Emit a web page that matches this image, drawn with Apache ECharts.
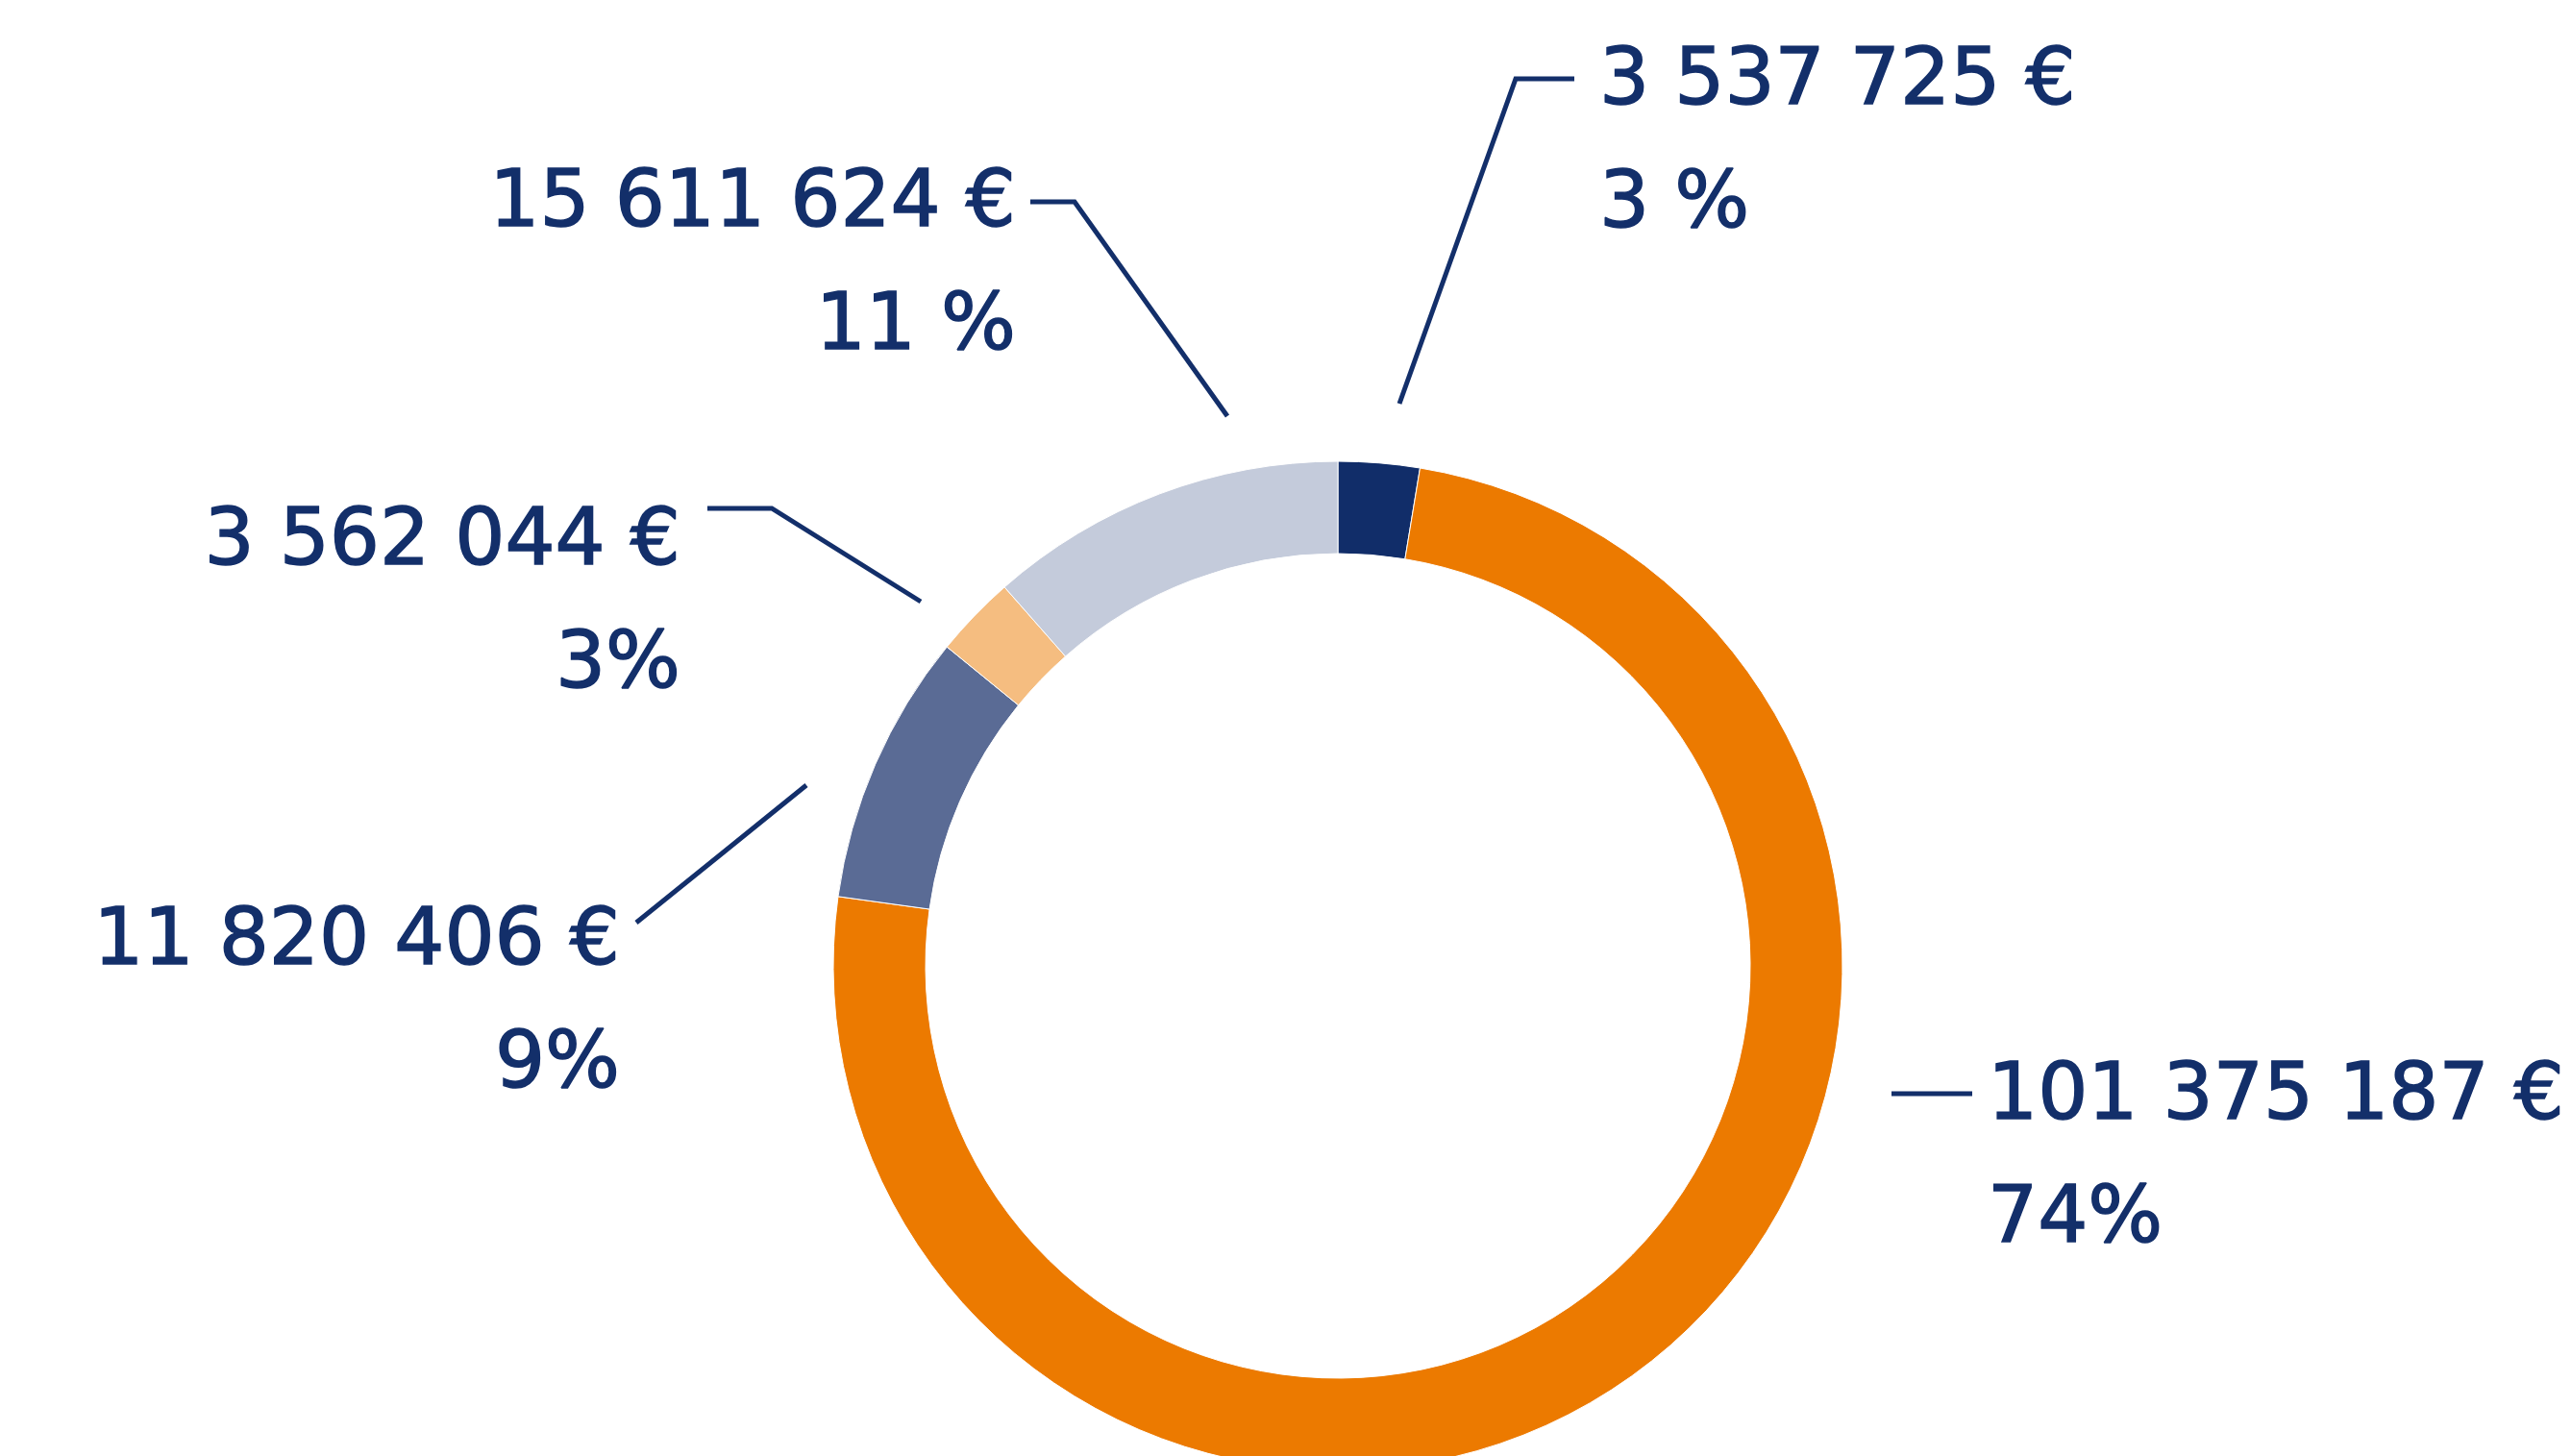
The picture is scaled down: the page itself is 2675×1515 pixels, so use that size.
<!DOCTYPE html>
<html>
<head>
<meta charset="utf-8">
<script src="https://cdn.jsdelivr.net/npm/echarts@6/dist/echarts.min.js"></script>
<style>
  html, body { margin: 0; padding: 0; background: #ffffff; }
  #chart { width: 2675px; height: 1515px; }
</style>
</head>
<body>
<div id="chart"></div>
<script>
// Slice amounts in euros, clockwise from the top
const amounts = [3537725, 101375187, 11820406, 3562044, 15611624];
// Share labels as printed under each amount
const shareLabels = ['3 %', '74%', '9%', '3%', '11 %'];
// Slice colours
const sliceColors = ['#112d69', '#ec7a00', '#5a6b95', '#f5bd80', '#c4cbdb'];

const textColor = '#132f6a';

// Label anchor and leader-line geometry for each slice (pixels)
const labelPlacement = [
  { x: 1664, y: 151, align: 'left',  line: [[1456, 420], [1577, 82], [1638, 82]] },
  { x: 2068, y: 1207, align: 'left', line: [[1968, 1138], [2010, 1138], [2052, 1138]] },
  { x: 645,  y: 1046, align: 'right', line: [[839, 817], [750, 889], [662, 960]] },
  { x: 708,  y: 630, align: 'right', line: [[958, 626], [803, 529], [736, 529]] },
  { x: 1057, y: 278, align: 'right', line: [[1277, 433], [1118, 210], [1072, 210]] }
];

function formatEuro(v) {
  return String(v).replace(/\B(?=(\d{3})+(?!\d))/g, ' ') + ' €';
}

const chart = echarts.init(document.getElementById('chart'), null, { renderer: 'canvas' });

chart.setOption({
  backgroundColor: '#ffffff',
  animation: false,
  series: [{
    type: 'pie',
    center: [1392, 1005],
    radius: [429, 525],
    startAngle: 90,
    clockwise: true,
    avoidLabelOverlap: false,
    silent: true,
    itemStyle: { borderColor: '#ffffff', borderWidth: 1 },
    label: {
      show: true,
      position: 'outside',
      color: textColor,
      fontFamily: 'DejaVu Sans',
      fontSize: 82,
      lineHeight: 128,
      textBorderColor: textColor,
      textBorderWidth: 1.5,
      formatter: function (p) {
        return formatEuro(p.value) + '\n' + shareLabels[p.dataIndex];
      }
    },
    labelLine: {
      show: true,
      lineStyle: { color: textColor, width: 5 }
    },
    labelLayout: function (params) {
      const lp = labelPlacement[params.dataIndex];
      return {
        x: lp.x,
        y: lp.y,
        align: lp.align,
        verticalAlign: 'middle',
        labelLinePoints: lp.line
      };
    },
    data: amounts.map(function (v, i) {
      return { value: v, itemStyle: { color: sliceColors[i] } };
    })
  }]
});
</script>
</body>
</html>
